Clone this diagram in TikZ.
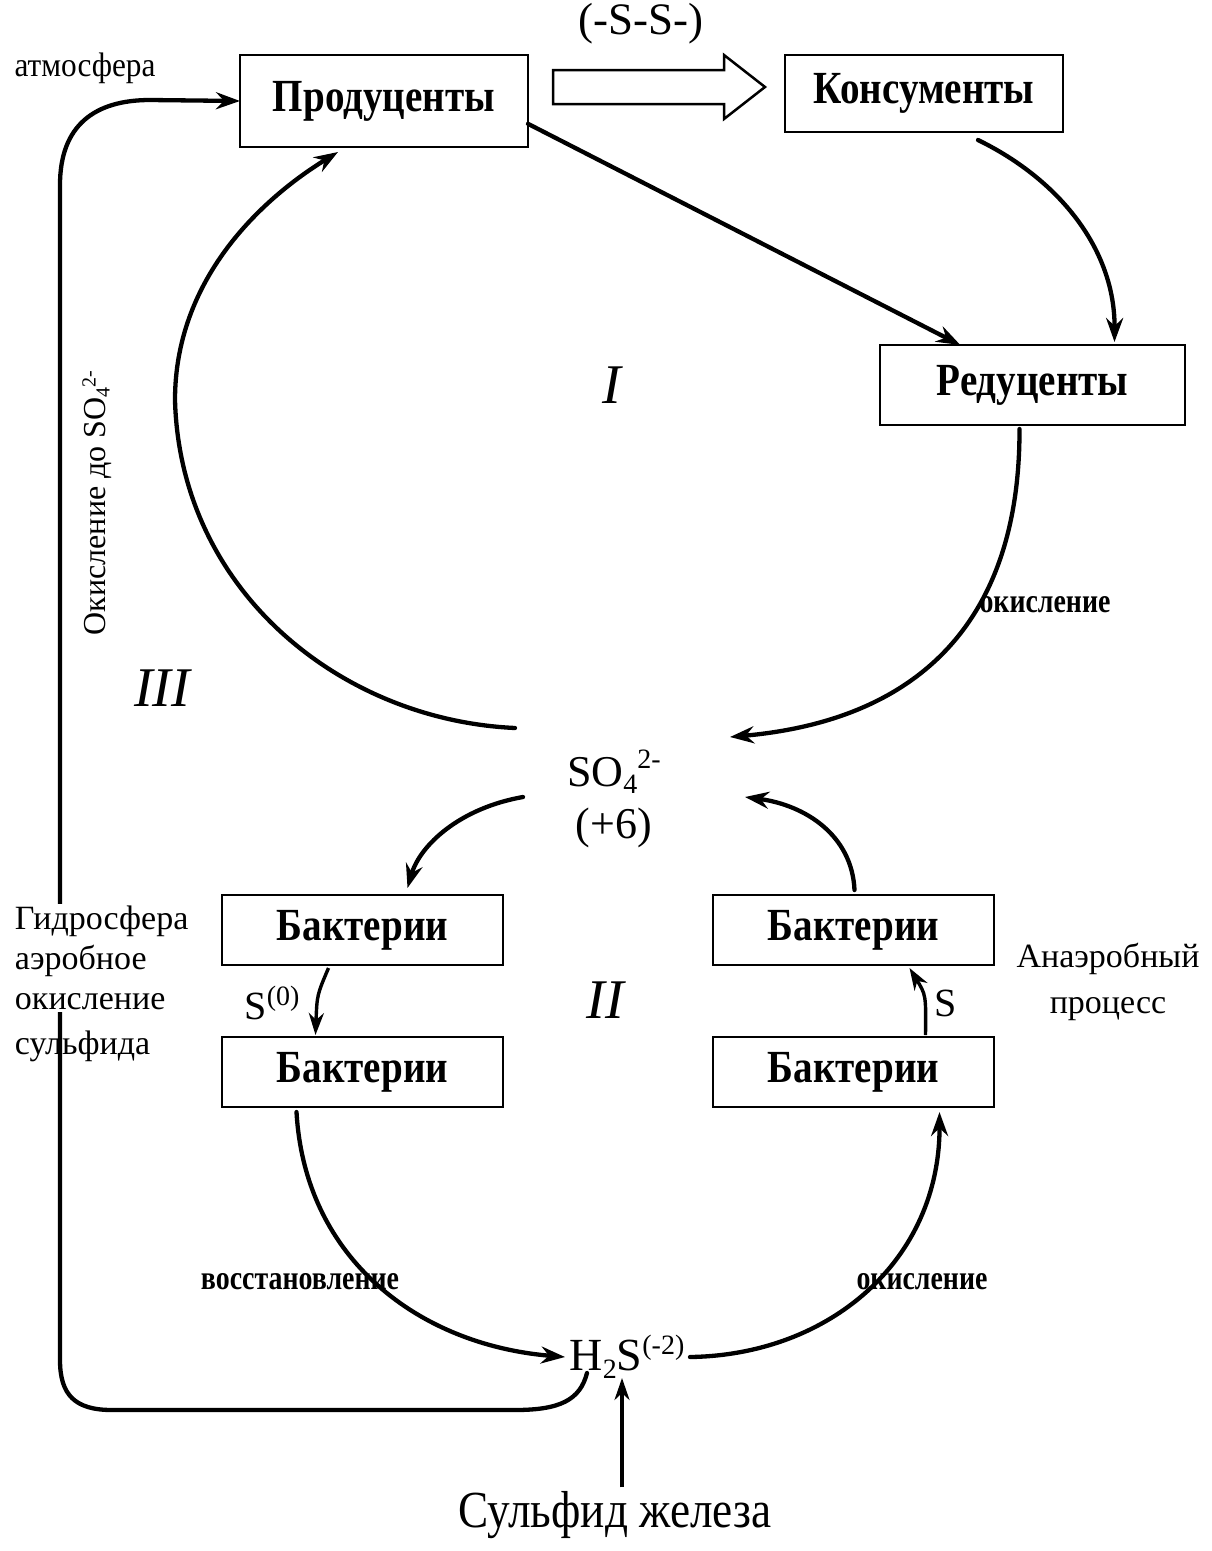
\documentclass[tikz,border=0pt]{standalone}
\usepackage{fontspec}
\setmainfont{Liberation Serif}
\newfontfamily\narrowfont{Liberation Serif}[FakeStretch=0.85]
\newfontfamily\slimfont{Liberation Serif}[FakeStretch=0.82]
\newfontfamily\tallfont{Liberation Serif}[FakeStretch=0.87]
\usetikzlibrary{arrows.meta}

\newcommand{\fsz}[1]{\fontsize{#1}{#1}\selectfont}

\tikzset{
  boxnode/.style={draw, line width=2.5pt, font=\narrowfont\bfseries\fsz{46}, inner sep=0pt},
  flow/.style={line width=4.3pt, line cap=round, -{Stealth[length=24pt,width=17pt,inset=8pt]}},
  thinflow/.style={line width=3.4pt, -{Stealth[length=22pt,width=15pt,inset=7pt]}},
  smalllabel/.style={font=\slimfont\bfseries\fsz{34}},
  sidelabel/.style={font=\fsz{34}, anchor=west},
  roman/.style={font=\itshape\fsz{56}},
  every node/.style={inner sep=0pt, outer sep=0pt},
}

\begin{document}
\begin{tikzpicture}[x=1pt,y=-1pt]
\useasboundingbox (0,0) rectangle (1212,1551);
\fill[white] (0,0) rectangle (1212,1551);

% trophic boxes
\node[boxnode, minimum width=288pt, minimum height=92pt] (prod) at (384,101) {Продуценты};
\node[boxnode, minimum width=278pt, minimum height=77pt] (kons) at (924,93.5) {Консументы};
\node[boxnode, minimum width=305pt, minimum height=80pt] (red) at (1032.5,385) {Редуценты};

% bacteria boxes
\node[boxnode, minimum width=281pt, minimum height=70pt] (b1) at (362.5,930) {Бактерии};
\node[boxnode, minimum width=281pt, minimum height=70pt] (b2) at (362.5,1072) {Бактерии};
\node[boxnode, minimum width=281pt, minimum height=70pt] (b3) at (853.5,930) {Бактерии};
\node[boxnode, minimum width=281pt, minimum height=70pt] (b4) at (853.5,1072) {Бактерии};

% chemical species
\node[font=\fsz{44}, align=center] (so4) at (614,799)
  {SO\raisebox{-7pt}{\fsz{28}4}\raisebox{18pt}{\fsz{28}2-}\\[8pt](+6)};
\node[font=\fsz{46}] (h2s) at (627,1357)
  {H\raisebox{-8pt}{\fsz{28}2}S\raisebox{16pt}{\fsz{28}(-2)}};
\node[font=\tallfont\fsz{52}] (sulf) at (615,1515) {Сульфид железа};

% hollow transfer arrow
\draw[line width=2.5pt, line join=miter] (553,70) -- (724,70) -- (724,55) -- (765,87)
  -- (724,119) -- (724,104) -- (553,104) -- cycle;
\node[font=\fsz{45}] (sss) at (641,24) {(-S-S-)};

% cycle I
\draw[flow] (prod.-9.5) -- (red.151);
\draw[flow] ([xshift=54pt,yshift=-8pt]kons.south) .. controls (1060,180) and (1115,250)
  .. ([xshift=82pt,yshift=3pt]red.north);
\draw[flow] ([xshift=-13pt,yshift=-4pt]red.south) .. controls (1020,620) and (920,720)
  .. ([shift={(116,-62)}]so4.center);
\draw[flow] ([shift={(-99,-71)}]so4.center) .. controls (340,720) and (180,590) .. (175,400)
  .. controls (175,280) and (260,200) .. ([xshift=-46pt,yshift=-5pt]prod.south);

% cycle II
\draw[flow] ([shift={(-91,-2)}]so4.center) .. controls (460,808) and (420,845)
  .. ([xshift=45pt,yshift=7pt]b1.north);
\draw[flow] ([xshift=1pt,yshift=5pt]b3.north) .. controls (852,835) and (805,805)
  .. ([shift={(131,-2)}]so4.center);
\draw[thinflow] ([xshift=-34pt,yshift=-3pt]b1.south) .. controls (317,995)
  .. ([xshift=-47pt,yshift=2pt]b2.north);
\draw[thinflow] ([xshift=72pt,yshift=2pt]b4.north) .. controls (926,995)
  .. ([xshift=56pt,yshift=-3pt]b3.south);
\draw[flow] ([xshift=-66pt,yshift=-5pt]b2.south) .. controls (305,1260) and (420,1345)
  .. ([shift={(-62,0)}]h2s.center);
\draw[flow] ([shift={(63,0)}]h2s.center) .. controls (830,1355) and (940,1260)
  .. ([xshift=86pt,yshift=-5pt]b4.south);
\draw[thinflow] ([xshift=7pt,yshift=4pt]sulf.north) -- ([shift={(-5,21)}]h2s.center);

% cycle III: return path through the atmosphere
\draw[flow] ([shift={(-40,16)}]h2s.center) .. controls (580,1400) and (560,1410) .. (515,1410)
  -- (112,1410) .. controls (75,1410) and (60,1395) .. (60,1360)
  -- (60,185) .. controls (60,125) and (95,100) .. (150,100) -- (prod.west);

% labels
\node[font=\fsz{34}\addfontfeature{FakeStretch=0.92}] (atm) at (85,68) {атмосфера};
\node[smalllabel] (ox1) at (1045,605) {окисление};
\node[smalllabel] (red2) at (300,1282) {восстановление};
\node[smalllabel] (ox2) at (922,1282) {окисление};
\node[rotate=90, font=\fsz{32}] (oxso4) at (97,503)
  {Окисление до SO\raisebox{-4pt}{\fsz{20}4}\raisebox{10pt}{\fsz{20}2-}};

\node[sidelabel, fill=white, align=left, inner ysep=2pt] (hyd) at (15,958)
  {Гидросфера\\[6pt]аэробное\\[6pt]окисление};
\node[sidelabel] (sulfd) at (15,1046) {сульфида};
\node[font=\fsz{34}, align=center] (anaer) at (1108,982) {Анаэробный\\[12pt]процесс};

\node[font=\fsz{40}] (s0) at (272,1003) {S\raisebox{14pt}{\fsz{28}(0)}};
\node[font=\fsz{40}] (s1) at (946,1003) {S};

\node[roman] (r1) at (612,385) {I};
\node[roman] (r2) at (605,1000) {II};
\node[roman] (r3) at (162,688) {III};
\end{tikzpicture}
\end{document}
